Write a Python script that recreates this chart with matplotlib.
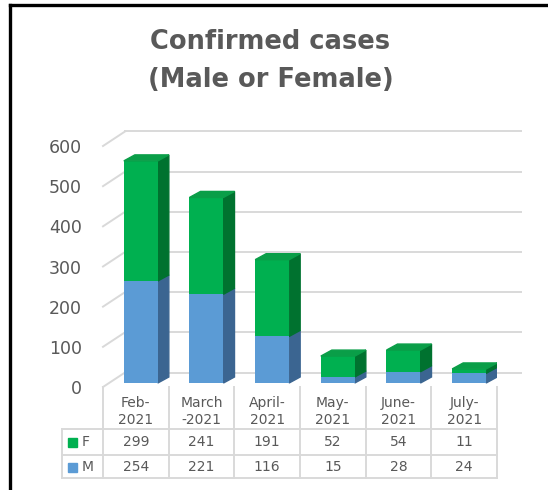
import matplotlib
matplotlib.use("Agg")
import matplotlib.pyplot as plt
from matplotlib.patches import Polygon
from matplotlib.lines import Line2D
from matplotlib.transforms import ScaledTranslation

months = ["Feb-\n2021", "March\n-2021", "April-\n2021", "May-\n2021", "June-\n2021", "July-\n2021"]
female = [299, 241, 191, 52, 54, 11]
male = [254, 221, 116, 15, 28, 24]
series = ["F", "M"]
yticks = [0, 100, 200, 300, 400, 500, 600]

GREY = "#595959"
GRID = "#d9d9d9"
GREEN, GREEN_SIDE, GREEN_TOP = "#00b050", "#00722f", "#0a9e48"
BLUE, BLUE_SIDE = "#5b9bd5", "#3b6591"

DPI = 100
W, H = 548, 490
fig = plt.figure(figsize=(W / DPI, H / DPI), dpi=DPI)
plt.rcParams["font.family"] = "DejaVu Sans"

# front plane of the chart, in pixels
L, R, TOP, BOT = 103, 497, 146, 387
ax = fig.add_axes([L / W, (H - BOT) / H, (R - L) / W, (BOT - TOP) / H])
ax.set_xlim(-0.5, 5.5)
ax.set_ylim(0, 600)
for s in ax.spines.values():
    s.set_visible(False)
ax.set_xticks([])
ax.set_yticks(yticks)
ax.tick_params(axis="y", length=0, pad=15, labelsize=12.5, labelcolor=GREY)

px_x = 6 / (R - L)          # data units per pixel
px_y = 600 / (BOT - TOP)

# back wall + side wall gridlines
BX, BY = 22 * px_x, 14.5 * px_y
for v in yticks:
    ax.plot([-0.5 + BX, 5.5 + BX + 2 * px_x], [v + BY, v + BY], color=GRID, lw=1.4,
            clip_on=False, zorder=1)
    ax.plot([-0.5, -0.5 + BX], [v, v + BY], color=GRID, lw=1.4, clip_on=False, zorder=1)

# bars, sitting slightly behind the front plane
trans = ax.transData + ScaledTranslation(5 / DPI, 4 / DPI, fig.dpi_scale_trans)
BW = 34 * px_x
DX, DY = 11 * px_x, 6 * px_y
x = range(len(months))
ax.bar(x, male, BW, color=BLUE, transform=trans, zorder=3)
ax.bar(x, female, BW, bottom=male, color=GREEN, transform=trans, zorder=3)
for i in x:
    m, f = male[i], female[i]
    xr = i + BW / 2
    for y0, y1, c in [(0, m, BLUE_SIDE), (m, m + f, GREEN_SIDE)]:
        ax.add_patch(Polygon([(xr, y0), (xr + DX, y0 + DY), (xr + DX, y1 + DY), (xr, y1)],
                             closed=True, color=c, transform=trans, zorder=2))
    top = m + f
    ax.add_patch(Polygon([(i - BW / 2, top), (xr, top), (xr + DX, top + DY), (i - BW / 2 + DX, top + DY)],
                         closed=True, color=GREEN_TOP, transform=trans, zorder=4))
ax.set_xlim(-0.5, 5.5)
ax.set_ylim(0, 600)

# data table under the chart
TB = 478
tab = fig.add_axes([62 / W, (H - TB) / H, (R - 62) / W, (TB - BOT) / H])
leg_w = (L - 62) * px_x
tab.set_xlim(-0.5 - leg_w, 5.5)
tab.set_ylim(TB, BOT)
tab.axis("off")
rows_y = [429, 455, 478]
for k in range(7):
    tab.plot([k - 0.5, k - 0.5], [BOT, TB], color=GRID, lw=1.4, clip_on=False)
tab.plot([-0.5 - leg_w, -0.5 - leg_w], [rows_y[0], TB], color=GRID, lw=1.4, clip_on=False)
for yy in rows_y:
    tab.plot([-0.5 - leg_w, 5.5], [yy, yy], color=GRID, lw=1.4, clip_on=False)

for i, lab in enumerate(months):
    top_l, bot_l = lab.split("\n")
    tab.text(i, 403, top_l, ha="center", va="center", fontsize=10, color=GREY)
    tab.text(i, 420, bot_l, ha="center", va="center", fontsize=10, color=GREY)
    tab.text(i, 442, str(female[i]), ha="center", va="center", fontsize=10, color=GREY)
    tab.text(i, 467, str(male[i]), ha="center", va="center", fontsize=10, color=GREY)

for name, col, yy in [(series[0], GREEN, 442), (series[1], BLUE, 467)]:
    x0 = -0.5 - leg_w + 6 * px_x
    tab.add_patch(plt.Rectangle((x0, yy - 4.5), 9 * px_x, 9, color=col, clip_on=False))
    tab.text(x0 + 14 * px_x, yy, name, ha="left", va="center", fontsize=10, color=GREY)
tab.set_xlim(-0.5 - leg_w, 5.5)
tab.set_ylim(TB, BOT)

# title
fig.text(270 / W, 1 - 42 / H, "Confirmed cases", ha="center", va="center",
         fontsize=18.5, fontweight="bold", color=GREY)
fig.text(271 / W, 1 - 80 / H, "(Male or Female)", ha="center", va="center",
         fontsize=18.5, fontweight="bold", color=GREY)

# black frame on top and left
fig.add_artist(Line2D([10 / W, 1], [1 - 5 / H, 1 - 5 / H], color="black", lw=2.4,
                      transform=fig.transFigure))
fig.add_artist(Line2D([10 / W, 10 / W], [0, 1 - 5 / H], color="black", lw=2.4,
                      transform=fig.transFigure))

fig.savefig("out.png", dpi=DPI)
